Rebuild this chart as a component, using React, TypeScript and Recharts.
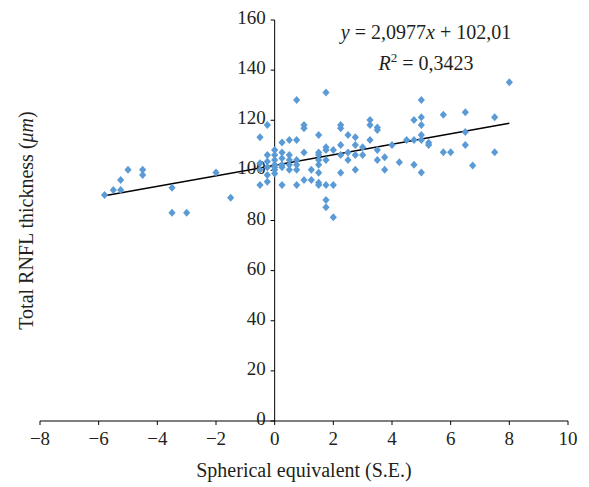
import React from 'react';
import {
  ScatterChart,
  Scatter,
  XAxis,
  YAxis,
  ReferenceLine,
  ReferenceDot,
  Customized,
  Label,
} from 'recharts';

// spherical equivalent (x) and total RNFL thickness (y), read column by column
const seValues = [
  -5.8, -5.5, -5.25, -5.25, -5.0, -4.5, -4.5, -3.5, -3.5, -3.0, -2.0, -1.5,
  -0.5, -0.5, -0.5, -0.5,
  -0.25, -0.25, -0.25, -0.25, -0.25, -0.25,
  0, 0, 0, 0, 0, 0, 0,
  0.25, 0.25, 0.25, 0.25, 0.25, 0.25,
  0.5, 0.5, 0.5, 0.5, 0.5,
  0.75, 0.75, 0.75, 0.75, 0.75, 0.75,
  1.0, 1.0, 1.0, 1.0,
  1.25, 1.25,
  1.5, 1.5, 1.5, 1.5, 1.5, 1.5, 1.5, 1.5,
  1.75, 1.75, 1.75, 1.75, 1.75, 1.75, 1.75,
  2.0, 2.0, 2.0,
  2.25, 2.25, 2.25, 2.25, 2.25,
  2.5, 2.5, 2.5,
  2.75, 2.75, 2.75, 2.75,
  3.0, 3.0,
  3.25, 3.25, 3.25,
  3.5, 3.5, 3.5, 3.5,
  3.75, 3.75,
  4.0, 4.25, 4.5,
  4.75, 4.75, 4.75,
  5.0, 5.0, 5.0, 5.0, 5.0, 5.0,
  5.25, 5.25,
  5.75, 5.75, 6.0,
  6.5, 6.5, 6.5, 6.75,
  7.5, 7.5, 8.0,
];

const rnflValues = [
  90.2, 92.2, 92.2, 96.2, 100.2, 100.2, 98.2, 93.1, 83.1, 83.1, 99.2, 89.1,
  113.2, 102.8, 100.2, 94.2,
  118.1, 106.1, 103.5, 101.2, 98.2, 95.5,
  108.1, 106.1, 104.1, 102.2, 101.2, 100.2, 98.8,
  111.1, 107.1, 104.8, 102.2, 101.2, 94.2,
  112.1, 106.1, 104.1, 102.2, 100.2,
  128.1, 112.1, 104.1, 102.2, 100.2, 94.2,
  118.1, 116.8, 107.1, 96.2,
  100.2, 96.2,
  114.1, 107.1, 106.1, 104.1, 102.2, 99.1, 95.1, 94.2,
  131.1, 109.2, 108.1, 104.1, 94.2, 88.2, 85.3,
  108.1, 94.2, 81.3,
  118.1, 116.8, 110.1, 106.1, 99.1,
  114.1, 107.1, 104.1,
  113.2, 110.1, 106.1, 100.2,
  109.2, 106.1,
  120.1, 118.1, 112.1,
  117.1, 116.1, 108.1, 104.1,
  105.2, 100.2,
  110.1, 103.2, 112.1,
  120.1, 112.1, 102.2,
  128.1, 121.2, 118.1, 114.1, 112.1, 99.2,
  111.0, 110.1,
  122.2, 107.2, 107.2,
  123.2, 115.3, 110.1, 101.9,
  121.2, 107.2, 135.2,
];

const xTicks = [-8, -6, -4, -2, 0, 2, 4, 6, 8, 10];
const yTicks = [0, 20, 40, 60, 80, 100, 120, 140, 160];

const slope = 2.0977;
const intercept = 102.01;
const fitFrom = -5.8;
const fitTo = 8;

const points = seValues.map((x, i) => ({ x, y: rnflValues[i] }));

const FONT = '"Liberation Serif", "Times New Roman", serif';
const INK = '#231f20';
const BLUE = '#5b9bd5';

const Diamond = (props: any) => {
  const { cx, cy } = props;
  return (
    <path
      d={`M${cx},${cy - 4}L${cx + 3.6},${cy}L${cx},${cy + 4}L${cx - 3.6},${cy}Z`}
      fill={BLUE}
    />
  );
};

const yTickShape = (value: number) => (props: any) => {
  const { cx, cy } = props;
  return (
    <g>
      <line x1={cx - 4} y1={cy} x2={cx} y2={cy} stroke="#000" strokeWidth={1} />
      <text
        x={cx - 9}
        y={cy + 4}
        textAnchor="end"
        fontFamily={FONT}
        fontSize={19}
        fill={INK}
      >
        {value}
      </text>
    </g>
  );
};

const YTitle = (props: any) => {
  const { x, y, height } = props.viewBox;
  const cx = x + 18;
  const cy = y + height / 2;
  return (
    <text
      x={cx}
      y={cy}
      dy={7}
      transform={`rotate(-90, ${cx}, ${cy})`}
      textAnchor="middle"
      fontFamily={FONT}
      fontSize={20}
      fill={INK}
    >
      Total RNFL thickness (<tspan fontStyle="italic">{'\u03bcm'}</tspan>)
    </text>
  );
};

const Equation = () => (
  <g fontFamily={FONT} fontSize={20} fill={INK}>
    <text x={418} y={31} textAnchor="middle">
      <tspan fontStyle="italic">y</tspan> = 2,0977<tspan fontStyle="italic">x</tspan> + 102,01
    </text>
    <text x={418} y={62} textAnchor="middle">
      <tspan fontStyle="italic">R</tspan>
      <tspan dy={-8} fontSize={13}>2</tspan>
      <tspan dy={8}> = 0,3423</tspan>
    </text>
  </g>
);

const minus = (v: number) => (v < 0 ? `\u2212${Math.abs(v)}` : `${v}`);

export default function App() {
  return (
    <ScatterChart
      width={580}
      height={475}
      margin={{ top: 12, right: 20, bottom: 2, left: 0 }}
    >
      <XAxis
        type="number"
        dataKey="x"
        domain={[-8, 10]}
        ticks={xTicks}
        allowDataOverflow
        tickFormatter={minus}
        axisLine={{ stroke: '#000' }}
        tickLine={{ stroke: '#000' }}
        tickSize={4}
        tickMargin={7}
        height={60}
        tick={{ fontFamily: FONT, fontSize: 19, fill: INK }}
        label={{
          value: 'Spherical equivalent (S.E.)',
          position: 'insideBottom',
          offset: 4,
          fontFamily: FONT,
          fontSize: 20,
          fill: INK,
        }}
      />
      <YAxis
        type="number"
        dataKey="y"
        domain={[0, 160]}
        ticks={yTicks}
        allowDataOverflow
        width={32}
        axisLine={false}
        tickLine={false}
        tick={false}
      >
        <Label content={YTitle} />
      </YAxis>
      <ReferenceLine x={0} stroke="#000" strokeWidth={1} />
      {yTicks.map((v) => (
        <ReferenceDot key={v} x={0} y={v} r={0} shape={yTickShape(v)} />
      ))}
      <Scatter data={points} shape={<Diamond />} isAnimationActive={false} />
      <ReferenceLine
        segment={[
          { x: fitFrom, y: slope * fitFrom + intercept },
          { x: fitTo, y: slope * fitTo + intercept },
        ]}
        stroke="#000"
        strokeWidth={1.5}
      />
      <Customized component={Equation} />
    </ScatterChart>
  );
}
